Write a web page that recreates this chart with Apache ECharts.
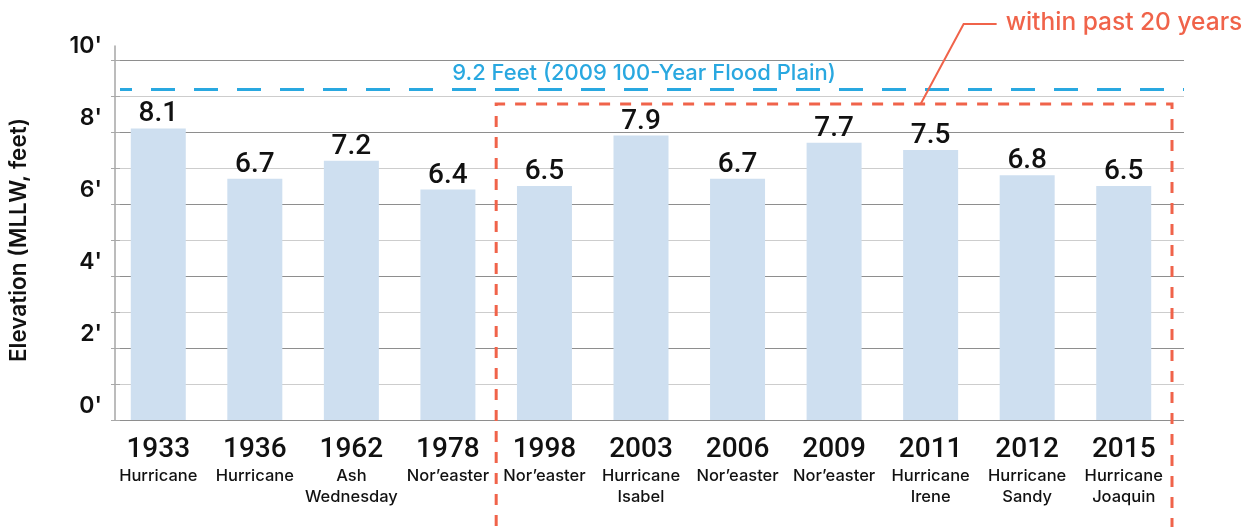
<!DOCTYPE html>
<html>
<head>
<meta charset="utf-8">
<script src="https://cdn.jsdelivr.net/npm/echarts@6/dist/echarts.min.js"></script>
<style>
  html, body { margin: 0; padding: 0; background: #ffffff; }
  #chart { width: 1243px; height: 527px; }
</style>
</head>
<body>
<div id="chart"></div>
<script>
// Storm tide peaks, feet above MLLW
const years = ['1933', '1936', '1962', '1978', '1998', '2003', '2006', '2009', '2011', '2012', '2015'];
const stormNames = ['Hurricane', 'Hurricane', 'Ash\nWednesday', 'Nor\u2019easter', 'Nor\u2019easter',
  'Hurricane\nIsabel', 'Nor\u2019easter', 'Nor\u2019easter', 'Hurricane\nIrene', 'Hurricane\nSandy', 'Hurricane\nJoaquin'];
const elevations = [8.1, 6.7, 7.2, 6.4, 6.5, 7.9, 6.7, 7.7, 7.5, 6.8, 6.5];
const yTickValues = [0, 2, 4, 6, 8, 10];
const floodPlain = 9.2;
const floodPlainLabel = '9.2 Feet (2009 100-Year Flood Plain)';
// recent storms box: first/last category index and top edge (feet)
const recentBox = [4, 10, 8.78];
const recentLabel = 'within past 20 years';
const recentLeaderCategory = 8;

const NUM_FONT = 'Roboto, "Noto Sans", sans-serif';
const TEXT_FONT = 'Inter, "Noto Sans", sans-serif';
const BLUE = '#29a8e0';
const RED = '#f0634a';

const categoryLabels = years.map((y, i) =>
  '{y|' + y + '}\n' + stormNames[i].split('\n').map(s => '{s|' + s + '}').join('\n'));

const chart = echarts.init(document.getElementById('chart'));

chart.setOption({
  animation: false,
  backgroundColor: '#ffffff',
  grid: [
    // gridlines, tick labels, flood plain line
    { left: 115, right: 59, top: 60, bottom: 107 },
    // bars
    { left: 110, width: 1062, top: 46, bottom: 107 }
  ],
  xAxis: [
    {
      gridIndex: 0, type: 'category', data: years,
      axisLine: { show: false }, axisTick: { show: false }, axisLabel: { show: false }, splitLine: { show: false }
    },
    {
      gridIndex: 1, type: 'category', data: categoryLabels,
      axisLine: { show: false }, axisTick: { show: false }, splitLine: { show: false },
      axisLabel: {
        interval: 0, margin: 14, color: '#111',
        rich: {
          y: { fontFamily: NUM_FONT, fontSize: 28, fontWeight: 500, lineHeight: 32, color: '#111', align: 'center' },
          s: { fontFamily: TEXT_FONT, fontSize: 16.5, fontWeight: 500, lineHeight: 21, color: '#111', align: 'center' }
        }
      }
    }
  ],
  yAxis: [
    {
      gridIndex: 0, type: 'value', min: 0, max: 10, interval: 1,
      name: 'Elevation (MLLW, feet)', nameLocation: 'middle', nameGap: 89, nameRotate: 90,
      nameTextStyle: { fontFamily: TEXT_FONT, fontSize: 22.5, fontWeight: 600, color: '#111' },
      axisLine: { show: false },
      axisTick: { show: true, length: 9, inside: false, lineStyle: { color: '#a8a8a8', width: 1 } },
      splitLine: { show: true, lineStyle: { color: ['#8e8e8e', '#cdcdcd'], width: 1.2 } },
      axisLabel: {
        margin: 18, fontFamily: TEXT_FONT, fontSize: 23, fontWeight: 600, color: '#111',
        verticalAlign: 'bottom', lineHeight: 24, padding: [0, 0, 2, 0],
        formatter: v => (yTickValues.indexOf(v) >= 0 ? v + "'" : '')
      }
    },
    {
      gridIndex: 1, type: 'value', min: 0, max: 10 + 14 / 36, offset: -5,
      axisLine: { show: true, lineStyle: { color: '#a6a6a6', width: 1.5 } },
      axisTick: { show: false }, axisLabel: { show: false }, splitLine: { show: false }
    }
  ],
  series: [
    {
      type: 'line', xAxisIndex: 0, yAxisIndex: 0, symbol: 'none', silent: true,
      data: years.map(() => '-'),
      markLine: {
        silent: true, symbol: 'none', animation: false,
        lineStyle: { color: BLUE, width: 3, type: [24, 19], dashOffset: 12 },
        label: {
          show: true, position: 'middle', distance: 4, padding: [0, 16, 0, 0],
          fontFamily: TEXT_FONT, fontSize: 22, fontWeight: 500, color: BLUE,
          formatter: floodPlainLabel
        },
        emphasis: { disabled: true },
        data: [{ yAxis: floodPlain }]
      }
    },
    {
      type: 'bar', xAxisIndex: 1, yAxisIndex: 1,
      data: elevations, barWidth: 55,
      itemStyle: { color: '#cedff0' },
      label: {
        show: true, position: 'top', distance: 0,
        fontFamily: NUM_FONT, fontSize: 28, fontWeight: 500, color: '#111',
        formatter: p => p.value.toFixed(1)
      }
    },
    {
      type: 'custom', xAxisIndex: 1, yAxisIndex: 1, silent: true, clip: false, z: 5,
      data: [recentBox],
      renderItem: (params, api) => {
        const top = api.value(2);
        const a = api.coord([api.value(0), top]);
        const b = api.coord([api.value(1), top]);
        const half = api.size([1, 0])[0] / 2;
        const x0 = a[0] - half, x1 = b[0] + half, yTop = a[1];
        const yBottom = api.getHeight() + 20;
        const anchor = api.coord([recentLeaderCategory, top]);
        const ax = anchor[0] - 10;
        const bend = [ax + 43, yTop - 80];
        const tail = [bend[0] + 33, bend[1]];
        return {
          type: 'group',
          children: [
            {
              type: 'polyline',
              shape: { points: [[x0, yBottom], [x0, yTop], [x1, yTop], [x1, yBottom]] },
              style: { fill: 'none', stroke: RED, lineWidth: 3, lineDash: [11, 10] }
            },
            {
              type: 'polyline',
              shape: { points: [[ax, yTop], bend, tail] },
              style: { fill: 'none', stroke: RED, lineWidth: 2 }
            },
            {
              type: 'text',
              x: tail[0] + 9, y: tail[1] - 1,
              style: {
                text: recentLabel, fill: RED, font: '500 24.5px ' + TEXT_FONT,
                textAlign: 'left', textVerticalAlign: 'middle'
              }
            }
          ]
        };
      }
    }
  ]
});
</script>
</body>
</html>
